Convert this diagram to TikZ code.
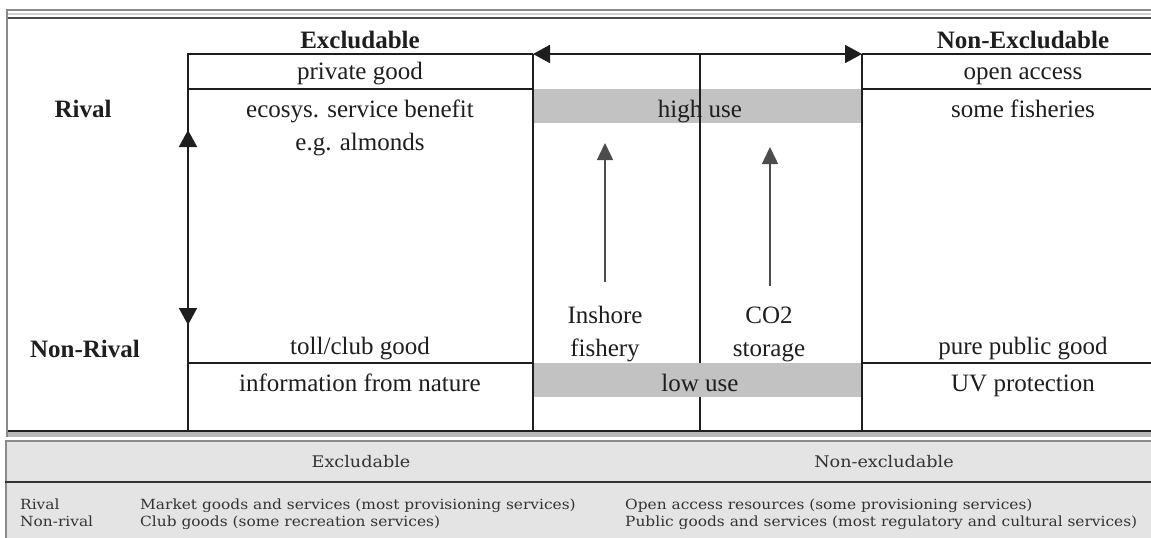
\documentclass[tikz,border=0pt]{standalone}
\usepackage{fontspec}
\setmainfont{Liberation Serif}
\newfontfamily\tabfont[FakeStretch=1.1]{DejaVu Serif}
\usetikzlibrary{arrows.meta}
\definecolor{bandgray}{HTML}{C2C2C2}
\definecolor{framegray}{HTML}{8A8A8A}
\definecolor{tablebg}{HTML}{E4E4E4}
\definecolor{ink}{HTML}{1E1E1E}
\definecolor{tabink}{HTML}{333333}
\tikzset{
  gridline/.style={line width=1.8pt, draw=ink},
  lbl/.style={font=\fontsize{25}{30}\selectfont, text=ink, inner sep=0pt, anchor=base},
  hdr/.style={lbl, font=\fontsize{25}{30}\selectfont\bfseries},
  band/.style={fill=bandgray, draw=none},
  bigtip/.style={{Triangle[length=17pt,width=18pt]}-{Triangle[length=17pt,width=18pt]}, line width=1.8pt, draw=ink},
  uptip/.style={-{Triangle[length=17pt,width=16pt]}, line width=1.5pt, draw=black!70},
  tabtxt/.style={font=\tabfont\fontsize{14}{17}\selectfont, text=tabink, inner sep=0pt, anchor=base west},
  tabhdr/.style={font=\tabfont\fontsize{16}{19}\selectfont, text=tabink, inner sep=0pt, anchor=base},
}
\begin{document}
\begin{tikzpicture}[x=1pt,y=-1pt]
\useasboundingbox (0,0) rectangle (1151,538);
% ---------- lower table ----------
\fill[tablebg] (5,440) rectangle (1151,538);
\draw[framegray, line width=2.2pt] (6,538) -- (6,441) -- (1151,441);
\draw[black!80, line width=1.5pt] (5,482) -- (1151,482);
\node[tabhdr] (thex) at (361,467) {Excludable};
\node[tabhdr] (thnex) at (884,467) {Non-excludable};
\node[tabtxt] (tr) at (20,509) {Rival};
\node[tabtxt] (tnr) at (20,526) {Non-rival};
\node[tabtxt] (trex) at (140,509) {Market goods and services (most provisioning services)};
\node[tabtxt] (tnrex) at (140,526) {Club goods (some recreation services)};
\node[tabtxt] (trnex) at (625,509) {Open access resources (some provisioning services)};
\node[tabtxt] (tnrnex) at (625,526) {Public goods and services (most regulatory and cultural services)};
% ---------- upper frame ----------
\fill[black!28] (7,432) rectangle (1151,437);
\draw[framegray, line width=2.5pt] (7,437) -- (7,10) -- (1151,10);
\draw[black!18, line width=2pt] (8,13.5) -- (1151,13.5);
\draw[black!70, line width=2pt] (8,17.5) -- (1151,17.5);
% ---------- bands ----------
\fill[band] (533,89) rectangle (862,123);
\fill[band] (533,363) rectangle (862,397);
% ---------- grid ----------
\coordinate (tl) at (188,54);
\coordinate (ml) at (533,54);
\coordinate (mr) at (862,54);
\coordinate (tr) at (1151,54);
\draw[gridline] (188,431) -- (tl) -- (ml);
\draw[gridline] (mr) -- (tr);
\draw[gridline] (ml) -- (533,431);
\draw[gridline] (mr) -- (862,431);
\draw[gridline] (700,54) -- (700,363);
\draw[gridline] (700,397) -- (700,431);
\draw[gridline] (188,89) -- (533,89);
\draw[gridline] (862,89) -- (1151,89);
\draw[gridline] (188,363) -- (533,363);
\draw[gridline] (862,363) -- (1151,363);
\draw[gridline] (8,431) -- (1151,431);
% ---------- arrows ----------
\draw[bigtip] (ml) -- (mr);
\coordinate (lup) at (188,130);
\coordinate (ldn) at (188,325);
\draw[bigtip] (lup) -- (ldn);
\coordinate (a1b) at (605,282);
\coordinate (a1t) at (605,143);
\coordinate (a2b) at (770,286);
\coordinate (a2t) at (770,147);
\draw[uptip] (a1b) -- (a1t);
\draw[uptip] (a2b) -- (a2t);
% ---------- texts ----------
\node[hdr] (hex) at (360,48) {Excludable};
\node[hdr] (hnex) at (1023,48) {Non-Excludable};
\node[hdr] (rival) at (83,117) {Rival};
\node[hdr] (nrival) at (85,357) {Non-Rival};
\node[lbl] (priv) at (360,79) {private good};
\node[lbl] (open) at (1023,79) {open access};
\node[lbl] (eco) at (360,117) {ecosys. service benefit};
\node[lbl] (alm) at (360,150) {e.g. almonds};
\node[lbl] (high) at (700,117) {high use};
\node[lbl] (fish) at (1023,117) {some fisheries};
\node[lbl] (insh) at (605,323) {Inshore};
\node[lbl] (fshy) at (605,356) {fishery};
\node[lbl] (co2) at (769,323) {CO2};
\node[lbl] (stor) at (769,356) {storage};
\node[lbl] (toll) at (360,354) {toll/club good};
\node[lbl] (pure) at (1023,354) {pure public good};
\node[lbl] (info) at (360,391) {information from nature};
\node[lbl] (low) at (700,391) {low use};
\node[lbl] (uv) at (1023,391) {UV protection};
\end{tikzpicture}
\end{document}
